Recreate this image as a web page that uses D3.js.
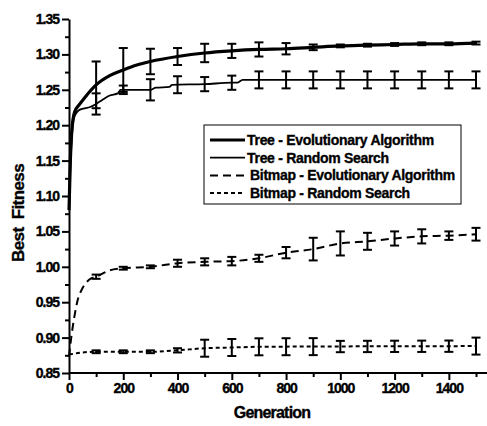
<!DOCTYPE html>
<html lang="en">
<head>
<meta charset="UTF-8">
<title>Best Fitness vs Generation</title>
<script src="https://d3js.org/d3.v7.min.js"></script>
<style>
  body { margin: 0; background: #fff; }
  svg { display: block; font-family: Arial, "Liberation Sans", sans-serif; font-weight: bold; }
  svg text { stroke: #000; stroke-width: 0.35px; }
  .axis text { font-size: 14px; font-weight: bold; letter-spacing: -1px; }
  .axis path, .axis line { stroke: #000; stroke-width: 2; }
</style>
</head>
<body>
<svg width="487" height="426"></svg>
<script>
// line data (mean best fitness per generation)
let treeEaGen = [0, 5, 10, 20, 40, 60, 100, 150, 200, 250, 300, 400, 500, 600, 700, 800, 900, 1000, 1100, 1200, 1300, 1400, 1500];
let treeEaVal = [1.08, 1.15, 1.19, 1.218, 1.23, 1.24, 1.257, 1.27, 1.278, 1.285, 1.290, 1.297, 1.302, 1.305, 1.307, 1.308, 1.310, 1.312, 1.313, 1.314, 1.315, 1.315, 1.316];

let treeRsGen = [0, 5, 10, 20, 40, 80, 100, 120, 150, 180, 190, 300, 320, 370, 380, 500, 600, 620, 640, 1500];
let treeRsVal = [1.08, 1.14, 1.18, 1.212, 1.222, 1.226, 1.23, 1.235, 1.242, 1.245, 1.25, 1.25, 1.253, 1.254, 1.257, 1.258, 1.26, 1.26, 1.264, 1.264];

let bmpEaGen = [0, 5, 10, 20, 30, 50, 75, 100, 150, 200, 300, 400, 500, 600, 700, 800, 900, 1000, 1100, 1200, 1300, 1400, 1500];
let bmpEaVal = [0.873, 0.89, 0.905, 0.93, 0.95, 0.97, 0.982, 0.986, 0.995, 0.998, 1.0, 1.005, 1.007, 1.008, 1.012, 1.02, 1.025, 1.033, 1.036, 1.04, 1.043, 1.044, 1.046];

let bmpRsGen = [0, 50, 100, 300, 400, 500, 600, 700, 1500];
let bmpRsVal = [0.876, 0.879, 0.88, 0.88, 0.882, 0.885, 0.886, 0.887, 0.888];

// error bars (half widths) every 100 generations
let barGen = [100, 200, 300, 400, 500, 600, 700, 800, 900, 1000, 1100, 1200, 1300, 1400, 1500];
let treeEaErr = [0.033, 0.031, 0.018, 0.012, 0.013, 0.01, 0.01, 0.008, 0.004, 0.002, 0.002, 0.002, 0.002, 0.002, 0.002];
let treeRsErr = [0.015, 0.006, 0.015, 0.012, 0.01, 0.01, 0.012, 0.012, 0.012, 0.012, 0.012, 0.012, 0.012, 0.012, 0.012];
let bmpEaErr = [0.003, 0.002, 0.002, 0.005, 0.005, 0.006, 0.005, 0.008, 0.016, 0.017, 0.012, 0.01, 0.01, 0.006, 0.009];
let bmpRsErr = [0.002, 0.002, 0.002, 0.003, 0.012, 0.012, 0.012, 0.012, 0.012, 0.008, 0.008, 0.008, 0.008, 0.008, 0.012];

let seriesNames = ["Tree - Evolutionary Algorithm", "Tree - Random Search", "Bitmap - Evolutionary Algorithm", "Bitmap - Random Search"];

let svg = d3.select('svg');
let xScale = d3.scaleLinear().domain([0, 1500]).range([69, 476]);
let yScale = d3.scaleLinear().domain([0.85, 1.35]).range([373, 19]);

let series = [
  {gen: treeEaGen, val: treeEaVal, err: treeEaErr, width: 3.2, dash: null},
  {gen: treeRsGen, val: treeRsVal, err: treeRsErr, width: 1.8, dash: null},
  {gen: bmpEaGen, val: bmpEaVal, err: bmpEaErr, width: 2, dash: "8,5"},
  {gen: bmpRsGen, val: bmpRsVal, err: bmpRsErr, width: 2, dash: "4,3"}
];

// axes
let xAxis = svg.append('g').attr('class', 'axis')
  .attr('transform', 'translate(0,373)')
  .call(d3.axisBottom(xScale).tickValues(d3.range(0, 1501, 200)).tickFormat(d3.format('d'))
    .tickSize(7).tickSizeOuter(0).tickPadding(3));
xAxis.select('.domain').attr('d', 'M69,0H487');
svg.append('g').attr('class', 'axis')
  .attr('transform', 'translate(0,373)')
  .call(d3.axisBottom(xScale).tickValues(d3.range(100, 1501, 200)).tickSize(4).tickFormat(''))
  .select('.domain').remove();

svg.append('g').attr('class', 'axis')
  .attr('transform', 'translate(69,0)')
  .call(d3.axisLeft(yScale).tickValues(d3.range(0, 11).map(i => 0.85 + i * 0.05)).tickFormat(d3.format('.2f'))
    .tickSize(7).tickSizeOuter(0).tickPadding(3));
svg.append('g').attr('class', 'axis')
  .attr('transform', 'translate(69,0)')
  .call(d3.axisLeft(yScale).tickValues(d3.range(0, 10).map(i => 0.875 + i * 0.05)).tickSize(4).tickFormat(''))
  .select('.domain').remove();

// lines
let line = d3.line().x(d => xScale(d[0])).y(d => yScale(d[1])).curve(d3.curveMonotoneX);
series.forEach(function (s) {
  let pts = s.gen.map((g, i) => [g, s.val[i]]);
  svg.append('path')
    .attr('d', line(pts))
    .attr('fill', 'none')
    .attr('stroke', '#000')
    .attr('stroke-width', s.width)
    .attr('stroke-dasharray', s.dash);

  // error bars, centred on the mean line
  let meanAt = d3.scaleLinear().domain(s.gen).range(s.val);
  let bars = svg.append('g').attr('stroke', '#000').attr('stroke-width', 2);
  barGen.forEach(function (g, i) {
    let m = meanAt(g);
    let x = xScale(g), y0 = yScale(m - s.err[i]), y1 = yScale(m + s.err[i]);
    bars.append('line').attr('x1', x).attr('x2', x).attr('y1', y0).attr('y2', y1);
    bars.append('line').attr('x1', x - 4.5).attr('x2', x + 4.5).attr('y1', y0).attr('y2', y0);
    bars.append('line').attr('x1', x - 4.5).attr('x2', x + 4.5).attr('y1', y1).attr('y2', y1);
  });
});

// axis titles
svg.append('text').attr('x', 272).attr('y', 418).attr('text-anchor', 'middle')
  .style('font-size', '16px').style('letter-spacing', '-0.8px').text('Generation');
svg.append('text').attr('transform', 'translate(24,213) rotate(-90)').attr('text-anchor', 'middle')
  .style('font-size', '17px').style('letter-spacing', '-0.6px').attr('xml:space', 'preserve').text('Best  Fitness');

// legend
let legend = svg.append('g').attr('transform', 'translate(204,125)');
legend.append('rect').attr('width', 257).attr('height', 79)
  .attr('fill', '#fff').attr('stroke', '#000').attr('stroke-width', 1);
series.forEach(function (s, i) {
  let y = 15 + i * 17.7;
  legend.append('line').attr('x1', 6).attr('x2', 41).attr('y1', y).attr('y2', y)
    .attr('stroke', '#000').attr('stroke-width', s.width).attr('stroke-dasharray', s.dash);
  legend.append('text').attr('x', i < 2 ? 43 : 46).attr('y', y + 5)
    .style('font-size', '14px').style('letter-spacing', '-0.3px').text(seriesNames[i]);
});
</script>
</body>
</html>
